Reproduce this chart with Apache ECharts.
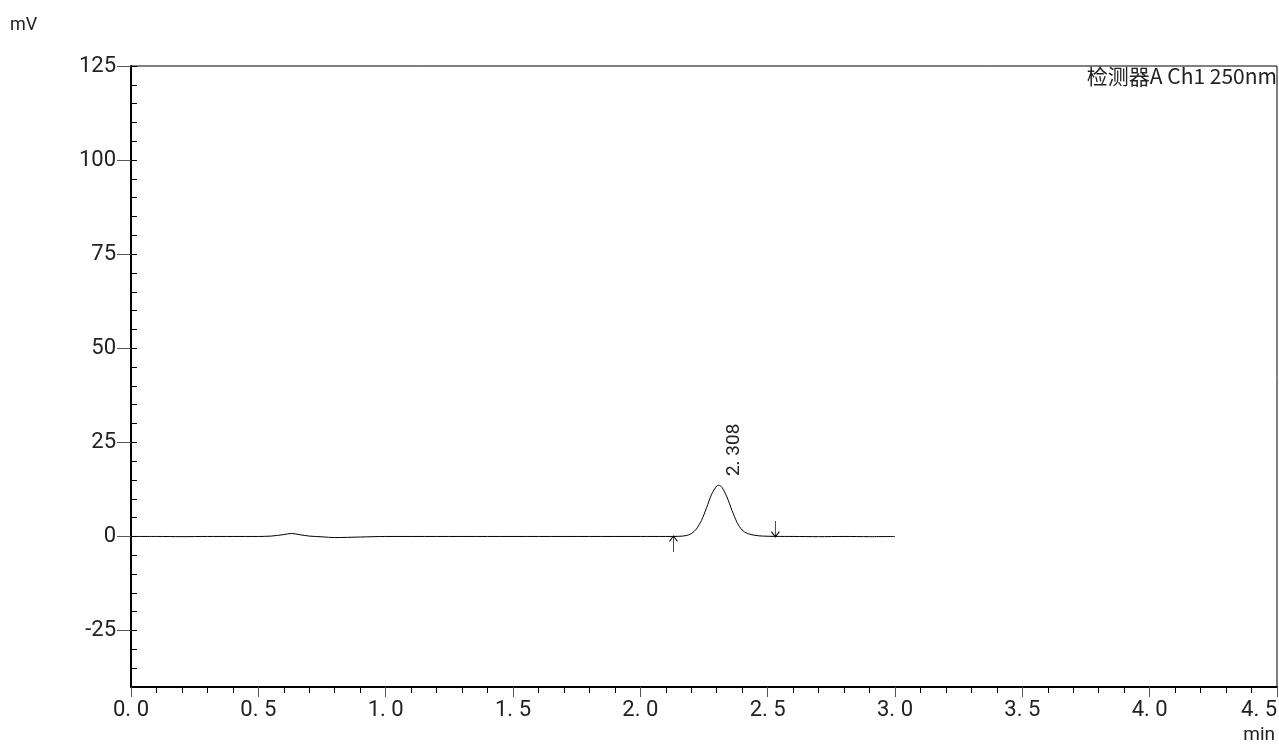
<!DOCTYPE html>
<html>
<head>
<meta charset="UTF-8">
<script src="https://cdn.jsdelivr.net/npm/echarts@6/dist/echarts.min.js"></script>
<style>html,body{margin:0;background:#fff}#c{width:1279px;height:749px}</style>
</head>
<body>
<div id="c"></div>
<script>
// 时间 (min)
var times = [0, 0.1, 0.2, 0.3, 0.4, 0.5, 0.55, 0.6, 0.63, 0.66, 0.7, 0.75, 0.8, 0.9, 1.0, 1.2, 1.4, 1.6, 1.8, 2.0, 2.1, 2.15,
  2.18, 2.2, 2.22, 2.24, 2.26, 2.28, 2.3, 2.308, 2.32, 2.34, 2.36, 2.38, 2.4, 2.42, 2.45, 2.48, 2.53, 2.6, 2.7, 2.8, 2.9, 3.0];
// 信号 (mV)
var signal = [0, 0, -0.05, 0, 0, 0, 0.1, 0.5, 0.8, 0.5, 0.1, -0.1, -0.3, -0.15, 0, 0, 0, 0, 0, 0, 0, 0.03,
  0.23, 0.75, 1.96, 4.25, 7.6, 11.2, 13.4, 13.6, 13.1, 10.5, 6.9, 3.7, 1.7, 0.8, 0.3, 0.1, 0.02, 0, -0.05, 0, -0.05, 0];
var yLabels = [-25, 0, 25, 50, 75, 100, 125];
var xLabels = [0, 0.5, 1, 1.5, 2, 2.5, 3, 3.5, 4, 4.5];
var peakTime = 2.308;
var peakLabel = '2.308';
var startMark = 2.13, endMark = 2.53;

var chart = echarts.init(document.getElementById('c'));
var font = 'Roboto';
var arrowUp = 'path://M5,0 L5,24 M0,8 L5,0 L10,8';
var arrowDown = 'path://M5,24 L5,0 M0,16 L5,24 L10,16';
chart.setOption({
  animation: false,
  grid: { left: 131, right: 2, top: 66, bottom: 62, outerBoundsMode: 'none', containLabel: false,
    show: true, borderColor: '#000', borderWidth: 1 },
  xAxis: [{
    type: 'value', min: 0, max: 4.5, interval: 0.1,
    axisLine: { onZero: false, lineStyle: { color: '#000', width: 2 } },
    axisTick: { show: true, length: 6, lineStyle: { color: '#000' } },
    splitLine: { show: false },
    axisLabel: { show: false }
  }, {
    type: 'value', min: 0, max: 4.5, position: 'bottom',
    axisLine: { show: false, onZero: false },
    axisTick: { show: true, length: 10, customValues: xLabels, lineStyle: { color: '#555' } },
    splitLine: { show: false },
    axisLabel: { color: '#222', fontFamily: font, fontSize: 22, margin: 12, customValues: xLabels,
      alignMaxLabel: 'right',
      formatter: function (v) { return v.toFixed(1).replace('.', '. '); } }
  }],
  yAxis: [{
    type: 'value', min: -40, max: 125, interval: 5,
    axisLine: { show: true, onZero: false, lineStyle: { color: '#000', width: 2 } },
    axisTick: { show: true, inside: true, length: 6, lineStyle: { color: '#000' } },
    splitLine: { show: false },
    axisLabel: { show: false }
  }, {
    type: 'value', min: -40, max: 125, position: 'left',
    axisLine: { show: false, onZero: false },
    axisTick: { show: true, length: 14, customValues: yLabels, lineStyle: { color: '#555' } },
    splitLine: { show: false },
    axisLabel: { color: '#222', fontFamily: font, fontSize: 22, margin: 15, customValues: yLabels }
  }],
  graphic: [
    { type: 'text', right: 2, top: 66,
      style: { text: '检测器A Ch1 250nm', fontFamily: 'Noto Sans CJK SC', fontSize: 21, fill: '#222' } },
    { type: 'text', left: 10, top: 16, style: { text: 'mV', fontFamily: font, fontSize: 18, fill: '#222' } },
    { type: 'text', right: 4, top: 726, style: { text: 'min', fontFamily: font, fontSize: 19, fill: '#222' } }
  ],
  series: [{
    type: 'line', showSymbol: false, smooth: 0.3,
    lineStyle: { color: '#000', width: 1 },
    data: times.map(function (t, i) { return [t, signal[i]]; }),
    markPoint: {
      silent: true,
      data: [
        { coord: [startMark, -2], symbol: arrowUp, symbolSize: [8, 16],
          itemStyle: { color: 'none', borderColor: '#000', borderWidth: 1 }, label: { show: false } },
        { coord: [endMark, 2], symbol: arrowDown, symbolSize: [8, 16],
          itemStyle: { color: 'none', borderColor: '#000', borderWidth: 1 }, label: { show: false } },
        { coord: [peakTime + 0.06, 23], symbol: 'circle', symbolSize: 1,
          itemStyle: { color: 'rgba(0,0,0,0)' },
          label: { show: true, position: 'inside', formatter: peakLabel.replace('.', '. '), rotate: 90,
            color: '#222', fontFamily: font, fontSize: 19 } }
      ]
    }
  }]
});
</script>
</body>
</html>
